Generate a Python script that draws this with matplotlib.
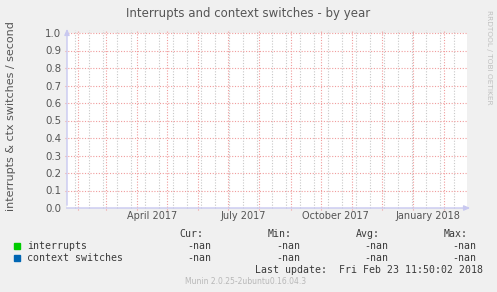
import numpy as np
import pandas as pd
import matplotlib
matplotlib.use('Agg')
import matplotlib.dates as mdates
from matplotlib import pyplot as plt

# --- data ---
series_names = ['interrupts', 'context switches']
series_colors = ['#00cc00', '#0066b3']
dates = pd.date_range('2017-01-21', '2018-02-24', freq='D')
interrupts = np.full(len(dates), np.nan)
ctx_switches = np.full(len(dates), np.nan)
cur_vals = ['-nan', '-nan']
min_vals = ['-nan', '-nan']
avg_vals = ['-nan', '-nan']
max_vals = ['-nan', '-nan']
y_ticks = [0.0, 0.1, 0.2, 0.3, 0.4, 0.5, 0.6, 0.7, 0.8, 0.9, 1.0]
label_dates = ['2017-04-16', '2017-07-16', '2017-10-16', '2018-01-16']
label_texts = ['April 2017', 'July 2017', 'October 2017', 'January 2018']

title = 'Interrupts and context switches - by year'
ylabel = 'interrupts & ctx switches / second'
last_update = 'Last update:  Fri Feb 23 11:50:02 2018'
munin_ver = 'Munin 2.0.25-2ubuntu0.16.04.3'

W, H = 497, 292
BG = '#f0f0f0'
RED = '#f09c9c'
GRAY = '#c8c8c8'
AXC = '#c8c8f0'
TXT = '#555555'

fig = plt.figure(figsize=(W / 100, H / 100), dpi=100, facecolor=BG)
x0, x1, ytop, ybot = 67, 467, 33, 208
ax = fig.add_axes([x0 / W, 1 - ybot / H, (x1 - x0) / W, (ybot - ytop) / H])
ax.set_facecolor('white')

ax.plot(dates, interrupts, color=series_colors[0])
ax.plot(dates, ctx_switches, color=series_colors[1])
ax.set_xlim(dates[0], dates[-1])
ax.set_ylim(0, 1.0)

for s in ax.spines.values():
    s.set_visible(False)

# grid: gray every two weeks, red every month, red every 0.1
minor = pd.date_range('2017-01-29', '2018-02-24', freq='14D')
for d in minor:
    ax.axvline(d, ymin=0, ymax=1.02, color=GRAY, lw=0.8, ls=(0, (1, 1.5)), clip_on=False, zorder=1)
for v in y_ticks[1:]:
    ax.axhline(v, xmin=-0.005, xmax=1.0, color=RED, lw=0.8, ls=(0, (1, 1.5)), clip_on=False, zorder=2)
for d in pd.date_range('2017-02-01', '2018-02-01', freq='MS'):
    ax.axvline(d, ymin=-0.012, ymax=1.02, color=RED, lw=0.8, ls=(0, (1, 1.5)), clip_on=False, zorder=2)

ax.set_xticks([])
ax.set_yticks(y_ticks)
ax.set_yticklabels(['%.1f' % v for v in y_ticks], fontsize=7.4, color=TXT)
ax.tick_params(axis='y', length=0, pad=4)

for d, t in zip(label_dates, label_texts):
    ax.text(mdates.date2num(pd.Timestamp(d)), -0.018, t, ha='center', va='top',
            fontsize=7, color=TXT, transform=ax.get_xaxis_transform())

# axis lines with arrows
ax.annotate('', xy=(0, 1.04), xytext=(0, 0), xycoords='axes fraction',
            arrowprops=dict(arrowstyle='-|>,head_width=0.15,head_length=0.35', color=AXC, lw=1),
            annotation_clip=False)
ax.annotate('', xy=(1.015, 0), xytext=(-0.008, 0), xycoords='axes fraction',
            arrowprops=dict(arrowstyle='-|>,head_width=0.15,head_length=0.35', color=AXC, lw=1),
            annotation_clip=False)

fig.text(248 / W, 1 - 13 / H, title, ha='center', va='center', fontsize=8.5, color=TXT)
fig.text(11 / W, 1 - 116 / H, ylabel, rotation=90, ha='center', va='center', fontsize=8, color=TXT)
fig.text(489 / W, 1 - 57 / H, 'RRDTOOL / TOBI OETIKER', rotation=270, ha='center', va='center',
         fontsize=5.3, color='#c0c0c0')

# legend block in monospace
mono = dict(family='DejaVu Sans Mono', fontsize=7.1, color='#3a3a3a', va='center')
col_x = [203, 292, 380, 468]
for cx, hdr in zip(col_x, ['Cur:', 'Min:', 'Avg:', 'Max:']):
    fig.text(cx / W, 1 - 234 / H, hdr, ha='right', **mono)
for i, name in enumerate(series_names):
    yy = 1 - (246 + 12 * i) / H
    fig.patches.append(plt.Rectangle((14 / W, yy - 3 / H), 6 / W, 6 / H, color=series_colors[i],
                                     transform=fig.transFigure, figure=fig))
    fig.text(27 / W, yy, name, ha='left', **mono)
    for cx, vals in zip(col_x, [cur_vals, min_vals, avg_vals, max_vals]):
        fig.text((cx + 8) / W, yy, vals[i], ha='right', **mono)
fig.text(483 / W, 1 - 270 / H, last_update, ha='right', **mono)
fig.text(185 / W, 1 - 281 / H, munin_ver, ha='left', va='center', fontsize=5.5, color='#b8b8b8')

fig.savefig('out.png', dpi=100, facecolor=BG)
